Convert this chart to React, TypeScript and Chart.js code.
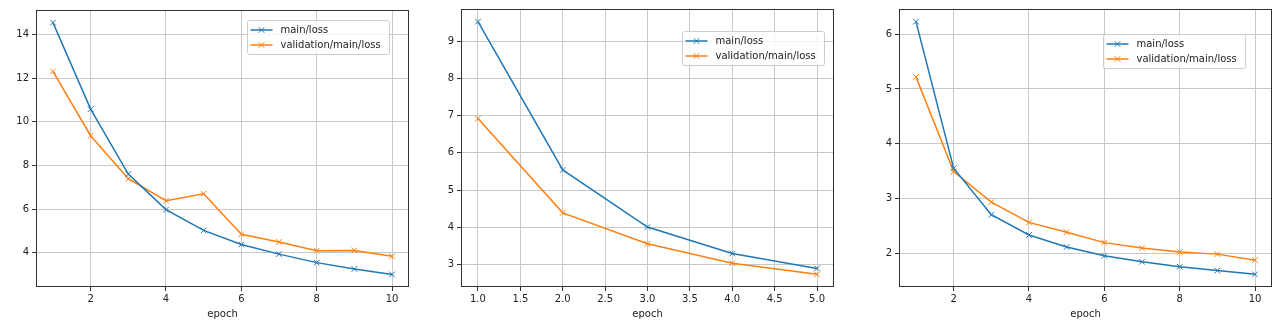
import React, { useEffect, useRef } from "react";
import { Chart, registerables } from "chart.js";

Chart.register(...registerables);

// ---- data ----
const epochs10 = [1, 2, 3, 4, 5, 6, 7, 8, 9, 10];
const epochs5 = [1, 2, 3, 4, 5];

const p1Main = [14.55, 10.58, 7.6, 5.97, 5.02, 4.37, 3.93, 3.54, 3.25, 3.0];
const p1Val = [12.31, 9.36, 7.39, 6.38, 6.7, 4.84, 4.49, 4.09, 4.1, 3.83];

const p2Main = [9.52, 5.54, 4.01, 3.3, 2.9];
const p2Val = [6.92, 4.39, 3.56, 3.04, 2.74];

const p3Main = [6.23, 3.55, 2.7, 2.33, 2.11, 1.95, 1.84, 1.75, 1.68, 1.61];
const p3Val = [5.22, 3.49, 2.93, 2.56, 2.38, 2.19, 2.09, 2.02, 1.98, 1.87];

const p1YTicks = [4, 6, 8, 10, 12, 14];
const p1XTicks = [2, 4, 6, 8, 10];
const p2YTicks = [3, 4, 5, 6, 7, 8, 9];
const p2XTicks = [1.0, 1.5, 2.0, 2.5, 3.0, 3.5, 4.0, 4.5, 5.0];
const p3YTicks = [2, 3, 4, 5, 6];
const p3XTicks = [2, 4, 6, 8, 10];

const seriesNames = ["main/loss", "validation/main/loss"];
const xTitle = "epoch";

const BLUE = "#1f77b4";
const ORANGE = "#ff7f0e";
const FONT = "DejaVu Sans";

type PanelProps = {
  left: number;
  width: number;
  xs: number[];
  main: number[];
  val: number[];
  xTicks: number[];
  yTicks: number[];
  xDecimals: number;
  areaLeft: number;
  areaRight: number;
  areaTop: number;
  legendRight: number;
  legendTop: number;
};

function limits(vals: number[]) {
  const mn = Math.min(...vals);
  const mx = Math.max(...vals);
  const m = (mx - mn) * 0.05;
  return [mn - m, mx + m];
}

function Panel(p: PanelProps) {
  const ref = useRef<HTMLCanvasElement | null>(null);
  useEffect(() => {
    if (!ref.current) return;
    const [ymin, ymax] = limits([...p.main, ...p.val]);
    const [xmin, xmax] = limits(p.xs);
    const H = 323;
    const bottom = 287;

    const framePlugin = {
      id: "frame",
      afterDatasetsDraw(chart: any) {
        const a = chart.chartArea;
        const ctx = chart.ctx;
        ctx.save();
        ctx.strokeStyle = "#333333";
        ctx.lineWidth = 1;
        ctx.strokeRect(Math.round(a.left) + 0.5, Math.round(a.top) + 0.5, Math.round(a.right - a.left) - 1, Math.round(a.bottom - a.top) - 1);
        ctx.restore();
      },
      afterDraw(chart: any) {
        const a = chart.chartArea;
        const ctx = chart.ctx;
        const w = 142;
        const h = 34;
        const x0 = Math.round(a.right - p.legendRight - w) + 0.5;
        const y0 = Math.round(a.top + p.legendTop) + 0.5;
        ctx.save();
        ctx.fillStyle = "rgba(255,255,255,0.8)";
        ctx.strokeStyle = "#cccccc";
        ctx.lineWidth = 1;
        ctx.beginPath();
        if ((ctx as any).roundRect) (ctx as any).roundRect(x0, y0, w, h, 2);
        else ctx.rect(x0, y0, w, h);
        ctx.fill();
        ctx.stroke();
        const colors = [BLUE, ORANGE];
        for (let i = 0; i < 2; i++) {
          const cy = y0 + 9.5 + i * 15;
          ctx.strokeStyle = colors[i];
          ctx.lineWidth = 1.5;
          ctx.beginPath();
          ctx.moveTo(x0 + 3, cy);
          ctx.lineTo(x0 + 25, cy);
          ctx.stroke();
          const mx = x0 + 14;
          const r = 2.8;
          ctx.lineWidth = 1;
          ctx.beginPath();
          ctx.moveTo(mx - r, cy - r);
          ctx.lineTo(mx + r, cy + r);
          ctx.moveTo(mx - r, cy + r);
          ctx.lineTo(mx + r, cy - r);
          ctx.stroke();
          ctx.fillStyle = "#222222";
          ctx.font = `10px "${FONT}"`;
          ctx.textBaseline = "middle";
          ctx.textAlign = "left";
          ctx.fillText(seriesNames[i], x0 + 33, cy);
        }
        ctx.restore();
      },
    };

    const mkDs = (label: string, data: number[], color: string) => ({
      label,
      data: p.xs.map((x, i) => ({ x, y: data[i] })),
      borderColor: color,
      backgroundColor: color,
      borderWidth: 1.5,
      pointStyle: "crossRot",
      pointRadius: 4,
      pointBorderWidth: 1,
      pointHoverRadius: 4,
      tension: 0,
    });

    const chart = new Chart(ref.current, {
      type: "line",
      data: {
        datasets: [mkDs(seriesNames[0], p.main, BLUE), mkDs(seriesNames[1], p.val, ORANGE)],
      },
      options: {
        animation: false,
        responsive: false,
        maintainAspectRatio: false,
        layout: {
          padding: { top: p.areaTop, right: p.width - p.areaRight, left: 0, bottom: 0 },
        },
        plugins: {
          legend: { display: false },
          tooltip: { enabled: false },
        },
        scales: {
          x: {
            type: "linear",
            min: xmin,
            max: xmax,
            afterBuildTicks: (s: any) => {
              s.ticks = p.xTicks.map((v) => ({ value: v }));
            },
            afterFit: (s: any) => {
              s.height = H - bottom;
            },
            ticks: {
              autoSkip: false,
              maxRotation: 0,
              padding: 2,
              color: "#222222",
              font: { family: FONT, size: 10 },
              callback: (v: any) => Number(v).toFixed(p.xDecimals),
            },
            grid: {
              color: "#c8c8c8",
              lineWidth: 1,
              drawTicks: true,
              tickLength: 4,
              tickColor: "#333333",
            },
            border: { display: false },
            title: {
              display: true,
              text: xTitle,
              color: "#222222",
              font: { family: FONT, size: 10 },
              padding: { top: 0, bottom: 3 },
            },
          },
          y: {
            type: "linear",
            min: ymin,
            max: ymax,
            afterBuildTicks: (s: any) => {
              s.ticks = p.yTicks.map((v) => ({ value: v }));
            },
            afterFit: (s: any) => {
              s.width = p.areaLeft;
            },
            ticks: {
              autoSkip: false,
              padding: 3,
              color: "#222222",
              font: { family: FONT, size: 10 },
              callback: (v: any) => String(v),
            },
            grid: {
              color: "#c8c8c8",
              lineWidth: 1,
              drawTicks: true,
              tickLength: 4,
              tickColor: "#333333",
            },
            border: { display: false },
          },
        },
      } as any,
      plugins: [framePlugin],
    });
    return () => chart.destroy();
  }, []);
  return (
    <canvas
      ref={ref}
      width={p.width}
      height={323}
      style={{ position: "absolute", left: p.left, top: 0, width: p.width, height: 323 }}
    />
  );
}

export default function App() {
  return (
    <div style={{ position: "fixed", left: 0, top: 0, width: 1280, height: 323, background: "#ffffff" }}>
      <Panel left={0} width={420} xs={epochs10} main={p1Main} val={p1Val} xTicks={p1XTicks} yTicks={p1YTicks} xDecimals={0}
        areaLeft={36} areaRight={409} areaTop={10} legendRight={20} legendTop={10} />
      <Panel left={420} width={430} xs={epochs5} main={p2Main} val={p2Val} xTicks={p2XTicks} yTicks={p2YTicks} xDecimals={1}
        areaLeft={41} areaRight={414} areaTop={9} legendRight={10} legendTop={22} />
      <Panel left={850} width={430} xs={epochs10} main={p3Main} val={p3Val} xTicks={p3XTicks} yTicks={p3YTicks} xDecimals={0}
        areaLeft={49} areaRight={422} areaTop={9} legendRight={27} legendTop={25} />
    </div>
  );
}
